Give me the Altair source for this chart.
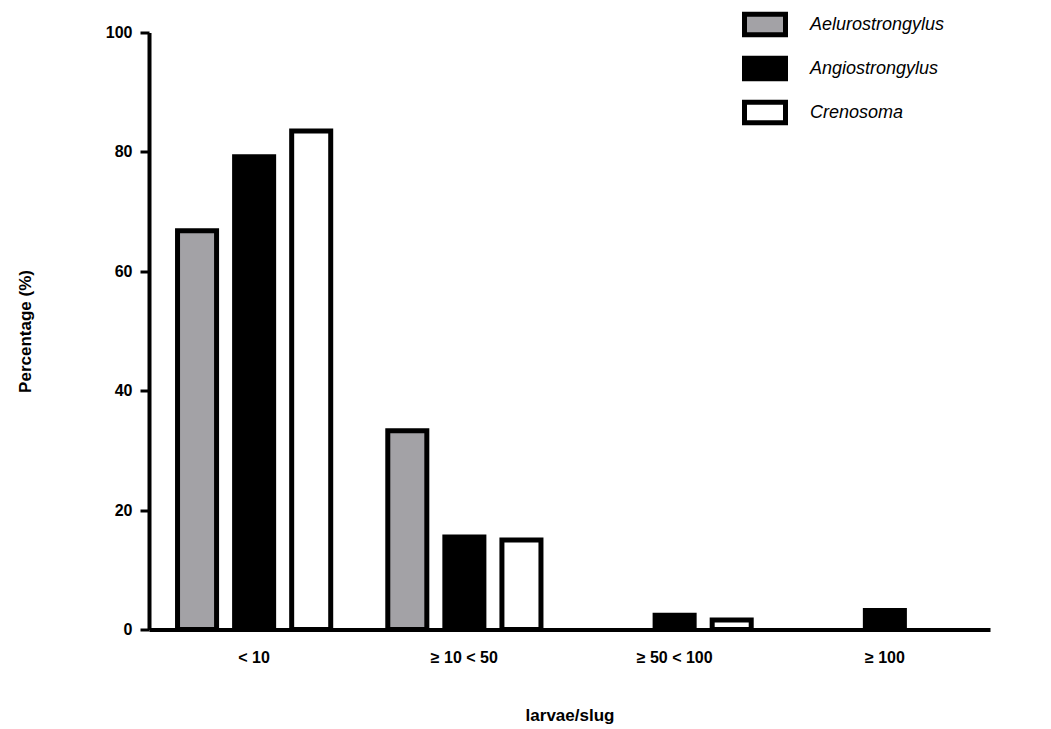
import altair as alt
import pandas as pd

categories = ["< 10", "≥ 10 < 50", "≥ 50 < 100", "≥ 100"]
species = ["Aelurostrongylus", "Angiostrongylus", "Crenosoma"]
aelurostrongylus = [66.8, 33.3, 0.0, 0.0]
angiostrongylus = [79.2, 15.5, 2.4, 3.2]
crenosoma = [83.5, 15.0, 1.6, 0.0]
y_ticks = [0, 20, 40, 60, 80, 100]
fill_colors = ["#a3a2a6", "#000000", "#ffffff"]

rows = []
for sp, vals in zip(species, [aelurostrongylus, angiostrongylus, crenosoma]):
    for cat, v in zip(categories, vals):
        rows.append({"category": cat, "species": sp, "value": v})
df = pd.DataFrame(rows)

FONT = "Liberation Sans"

chart = (
    alt.Chart(df)
    .transform_filter("datum.value > 0")
    .mark_bar(stroke="black", strokeWidth=5)
    .encode(
        x=alt.X(
            "category:N",
            sort=categories,
            scale=alt.Scale(domain=categories, paddingInner=0, paddingOuter=0),
            axis=alt.Axis(
                title="larvae/slug",
                labelAngle=0,
                ticks=False,
                labelPadding=20,
                labelFont=FONT,
                labelFontSize=16,
                labelFontWeight="bold",
                labelColor="black",
                domainColor="black",
                domainWidth=4,
                titleFont=FONT,
                titleFontSize=17,
                titleFontWeight="bold",
                titleColor="black",
                titleY=86,
                titleBaseline="middle",
                grid=False,
            ),
        ),
        xOffset=alt.XOffset(
            "species:N",
            sort=species,
            scale=alt.Scale(domain=species, paddingInner=0.316, paddingOuter=0.5),
        ),
        y=alt.Y(
            "value:Q",
            scale=alt.Scale(domain=[0, 100], nice=False),
            axis=alt.Axis(
                values=y_ticks,
                title="Percentage (%)",
                tickSize=9,
                tickWidth=3,
                tickColor="black",
                domainColor="black",
                domainWidth=4,
                labelPadding=8,
                labelFont=FONT,
                labelFontSize=16,
                labelFontWeight="bold",
                labelColor="black",
                titleFont=FONT,
                titleFontSize=17,
                titleFontWeight="bold",
                titleColor="black",
                titleX=-124,
                titleY=298.5,
                titleBaseline="middle",
                titleAlign="center",
                grid=False,
            ),
        ),
        color=alt.Color(
            "species:N",
            sort=species,
            scale=alt.Scale(domain=species, range=fill_colors),
            legend=alt.Legend(
                title=None,
                orient="none",
                legendX=593,
                legendY=-31,
                padding=0,
                symbolType="M-1,-0.5H1V0.5H-1Z",
                symbolSize=1681,
                symbolStrokeWidth=5,
                symbolStrokeColor="black",
                labelFont=FONT,
                labelFontSize=18,
                labelFontStyle="italic",
                labelColor="black",
                labelOffset=22,
                rowPadding=0,
            ),
        ),
    )
    .properties(
        width=841,
        height=597,
        padding={"left": 141, "top": 24.5, "right": 52, "bottom": 95},
        autosize=alt.AutoSizeParams(type="none"),
    )
    .configure_view(strokeWidth=0)
)

chart.save("out.html", embed_options={"renderer": "svg", "actions": False})
